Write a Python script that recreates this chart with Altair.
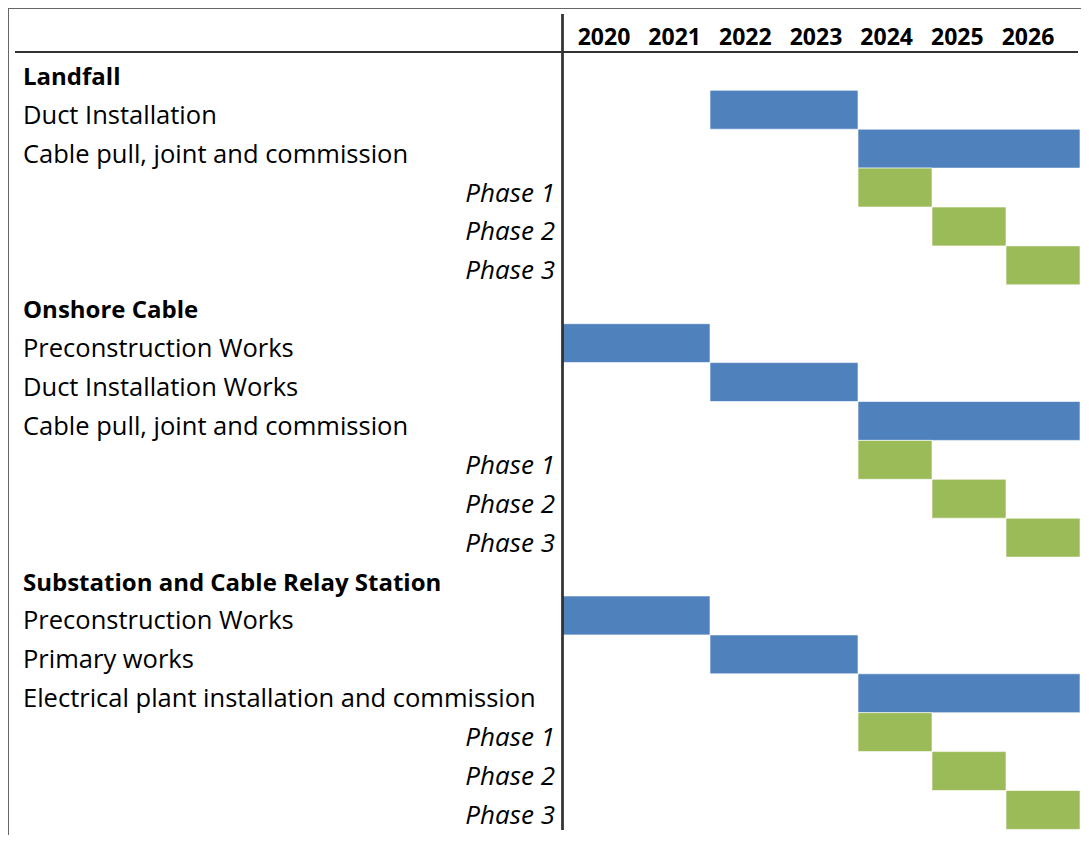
import altair as alt
import pandas as pd

# ---- data ----
labels = [
    "Landfall", "Duct Installation", "Cable pull, joint and commission",
    "Phase 1", "Phase 2", "Phase 3",
    "Onshore Cable", "Preconstruction Works", "Duct Installation Works",
    "Cable pull, joint and commission", "Phase 1", "Phase 2", "Phase 3",
    "Substation and Cable Relay Station", "Preconstruction Works", "Primary works",
    "Electrical plant installation and commission", "Phase 1", "Phase 2", "Phase 3",
]
kinds = [
    "group", "task", "task", "phase", "phase", "phase",
    "group", "task", "task", "task", "phase", "phase", "phase",
    "group", "task", "task", "task", "phase", "phase", "phase",
]
start_year = [None, 2022, 2024, 2024, 2025, 2026,
              None, 2020, 2022, 2024, 2024, 2025, 2026,
              None, 2020, 2022, 2024, 2024, 2025, 2026]
end_year = [None, 2023, 2026, 2024, 2025, 2026,
            None, 2021, 2023, 2026, 2024, 2025, 2026,
            None, 2021, 2023, 2026, 2024, 2025, 2026]
years = [2020, 2021, 2022, 2023, 2024, 2025, 2026]

rows = list(range(len(labels)))
df = pd.DataFrame({
    "row": rows,
    "label": labels,
    "kind": kinds,
    "start": start_year,
    "end": [e + 1 if e is not None else None for e in end_year],
})
bars_df = df[df["start"].notna()].copy()
bars_df["color"] = ["phase" if k == "phase" else "task" for k in bars_df["kind"]]
years_df = pd.DataFrame({"year": years, "txt": [str(y) for y in years]})

FONT = "Open Sans"

yscale = alt.Scale(domain=rows, range=[43.4, 821.4], paddingInner=0, paddingOuter=0)
xscale = alt.Scale(domain=[2020, 2027], range=[554, 1072], zero=False, nice=False)

bars = alt.Chart(bars_df).mark_rect(stroke="#ffffff", strokeOpacity=0.6, strokeWidth=1).encode(
    x=alt.X("start:Q", scale=xscale, axis=None),
    x2="end:Q",
    y=alt.Y("row:O", scale=yscale, axis=None),
    color=alt.Color("color:N", scale=alt.Scale(domain=["task", "phase"], range=["#4F81BD", "#9BBB59"]), legend=None),
)

def label_layer(kind, x, align, weight, style, size):
    return alt.Chart(df).transform_filter(alt.datum.kind == kind).mark_text(
        align=align, baseline="alphabetic", dy=14, font=FONT, fontSize=size,
        fontWeight=weight, fontStyle=style, color="#000000",
    ).encode(
        x=alt.value(x),
        y=alt.Y("row:O", scale=yscale, axis=None),
        text="label:N",
    )

groups = label_layer("group", 15, "left", "bold", "normal", 24)
tasks = label_layer("task", 15, "left", "normal", "normal", 25.5)
phases = label_layer("phase", 547, "right", "normal", "italic", 26)

year_text = alt.Chart(years_df).mark_text(
    align="center", baseline="alphabetic", font=FONT, fontSize=23, fontWeight="bold", color="#000000"
).encode(
    x=alt.X("year:Q", scale=alt.Scale(domain=[2020, 2026], range=[596, 1020], zero=False, nice=False), axis=None),
    y=alt.value(37),
    text="txt:N",
)

line_color = "#333333"
top_frame = alt.Chart(years_df).mark_rule(color="#666666", strokeWidth=1).encode(
    x=alt.value(0), x2=alt.value(1073), y=alt.value(0))
left_frame = alt.Chart(years_df).mark_rule(color="#666666", strokeWidth=1).encode(
    x=alt.value(0), y=alt.value(0), y2=alt.value(827))
header_line = alt.Chart(years_df).mark_rule(color=line_color, strokeWidth=1.5).encode(
    x=alt.value(7), x2=alt.value(1070), y=alt.value(44))
divider = alt.Chart(years_df).mark_rule(color=line_color, strokeWidth=1.5).encode(
    x=alt.value(554.5), y=alt.value(6), y2=alt.value(822))

chart = alt.layer(
    bars, groups, tasks, phases, year_text, top_frame, left_frame, header_line, divider
).resolve_scale(x="independent").properties(
    width=1073, height=827, autosize=alt.AutoSizeParams(type="none"), padding=0,
).configure_view(stroke=None).configure(background="#ffffff")

chart.save("out.html", embed_options={"renderer": "svg", "actions": False})
